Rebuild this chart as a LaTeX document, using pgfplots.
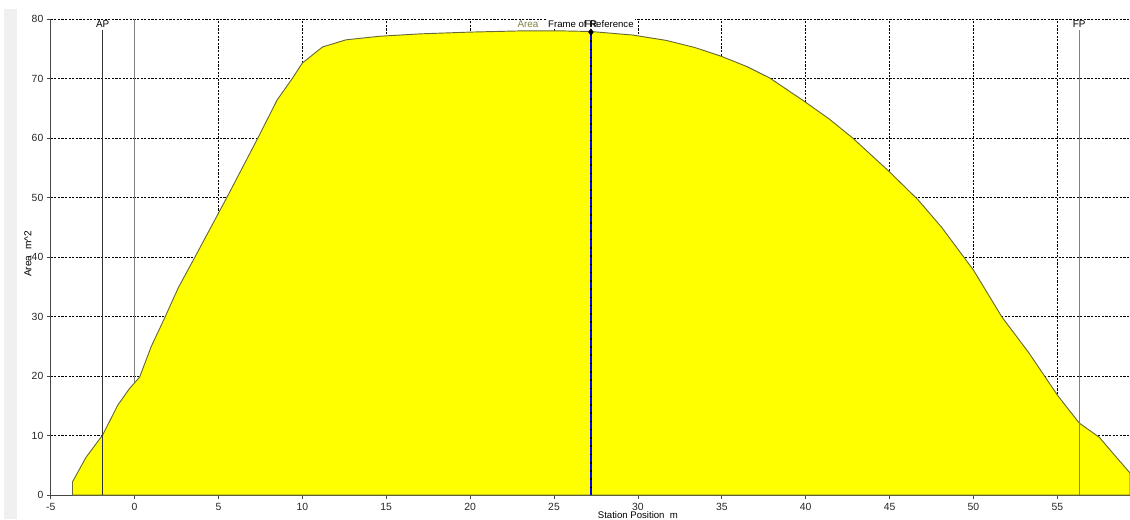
\documentclass[border=0pt]{standalone}
\usepackage{fontspec}
\setmainfont{Liberation Sans}
\usepackage{pgfplots}
\pgfplotsset{compat=1.18}
\definecolor{stripgray}{RGB}{240,240,240}
\definecolor{axisgray}{RGB}{70,70,70}
\definecolor{outline}{RGB}{105,105,55}
\definecolor{olivetext}{RGB}{128,128,64}
\definecolor{fpgray}{RGB}{128,128,128}
\definecolor{pureyellow}{RGB}{255,255,0}
\begin{document}
\begin{tikzpicture}
\useasboundingbox (-38.0pt,-18pt) rectangle (809.5pt,371.25pt);
\fill[stripgray] (-35.0pt,-18pt) rectangle (-25.3pt,364.5pt);
\begin{axis}[
  scale only axis, width=809.5pt, height=357pt,
  anchor=south west, at={(0pt,0pt)},
  xmin=-5, xmax=59.33, ymin=0, ymax=80,
  axis lines*=left,
  axis line style={axisgray, line width=0.75pt},
  xtick={-5,0,...,55}, ytick={0,10,...,80},
  tick align=outside, major tick length=3pt,
  tick style={axisgray, line width=0.6pt},
  grid=major,
  grid style={black, line width=0.5pt, dash pattern=on 1.6pt off 1.1pt},
  tick label style={font=\fontsize{7.8}{8.5}\selectfont, text=black!85},
  /pgf/number format/assume math mode=true,
  xticklabel style={yshift=0.5pt},
  yticklabel style={xshift=1pt},
  clip=false,
]
% zero line (behind fill)
\addplot[fpgray, line width=0.9pt] coordinates {(0,0) (0,80)};
% sectional area curve
\addplot[fill=pureyellow, draw=outline, line width=0.7pt] coordinates {
(-3.7,0) (-3.7,2.2) (-2.9,6.3) (-1.9,10.1) (-1.0,15.1) (-0.3,17.9) (0.3,19.8)
(1.0,25.0) (1.8,29.8) (2.6,34.8) (3.6,40.0) (5.5,50.0) (7.35,60.0) (8.5,66.4)
(9.4,70.0) (10.0,72.6) (11.2,75.3) (12.6,76.5) (14.6,77.1) (17.0,77.5)
(20.0,77.8) (23.0,78.0) (25.5,78.0) (27.2,77.9) (29.7,77.3) (31.7,76.4)
(33.4,75.2) (35.0,73.7) (36.5,72.0) (37.85,70.1) (39.9,66.2) (41.4,63.2)
(42.8,60.0) (45.0,54.3) (46.7,49.6) (48.1,45.0) (50.0,37.8) (51.7,29.9)
(53.3,23.9) (55.0,16.8) (56.3,12.1) (57.5,9.7) (58.5,6.4) (59.33,3.7) (59.33,0)
} -- cycle;
% AP and FP perpendiculars
\addplot[black!80, line width=0.7pt] coordinates {(-1.9,0) (-1.9,78.1)};
\addplot[fpgray, line width=0.9pt] coordinates {(56.3,0) (56.3,78.1)};
% frame of reference
\addplot[black, line width=1.4pt] coordinates {(27.2,0) (27.2,77.8)};
\addplot[blue, line width=1.4pt, dash pattern=on 5pt off 1.2pt] coordinates {(27.2,0) (27.2,77.8)};
\addplot[only marks, mark=diamond*, mark size=2.4pt, black] coordinates {(27.2,77.8)};
% labels
\node[anchor=north, inner sep=1pt, font=\fontsize{7.4}{8}\selectfont] at (axis cs:-1.9,80) {AP};
\node[anchor=north, inner sep=1pt, font=\fontsize{7.4}{8}\selectfont] at (axis cs:56.3,80) {FP};
\node[anchor=north, inner sep=1pt, font=\fontsize{7.4}{8}\selectfont, text=olivetext] at (axis cs:23.45,80) {Area};
\node[anchor=north, inner sep=1pt, fill=white, font=\fontsize{7.2}{8}\selectfont] at (axis cs:27.2,80) {Frame of Reference};
\node[anchor=north, inner sep=1pt, font=\fontsize{7.2}{8}\selectfont] at (axis cs:27.2,80) {FR};
\node[anchor=north, inner sep=0pt, font=\fontsize{7.2}{8}\selectfont] at (axis cs:30.0,0) [yshift=-12pt] {Station Position\ \ m};
\node[xshift=-17pt, rotate=90, inner sep=0pt, font=\fontsize{7.6}{8}\selectfont] at (axis cs:-5,40.5) {Area\ \ m\textasciicircum 2};
\end{axis}
\end{tikzpicture}
\end{document}
